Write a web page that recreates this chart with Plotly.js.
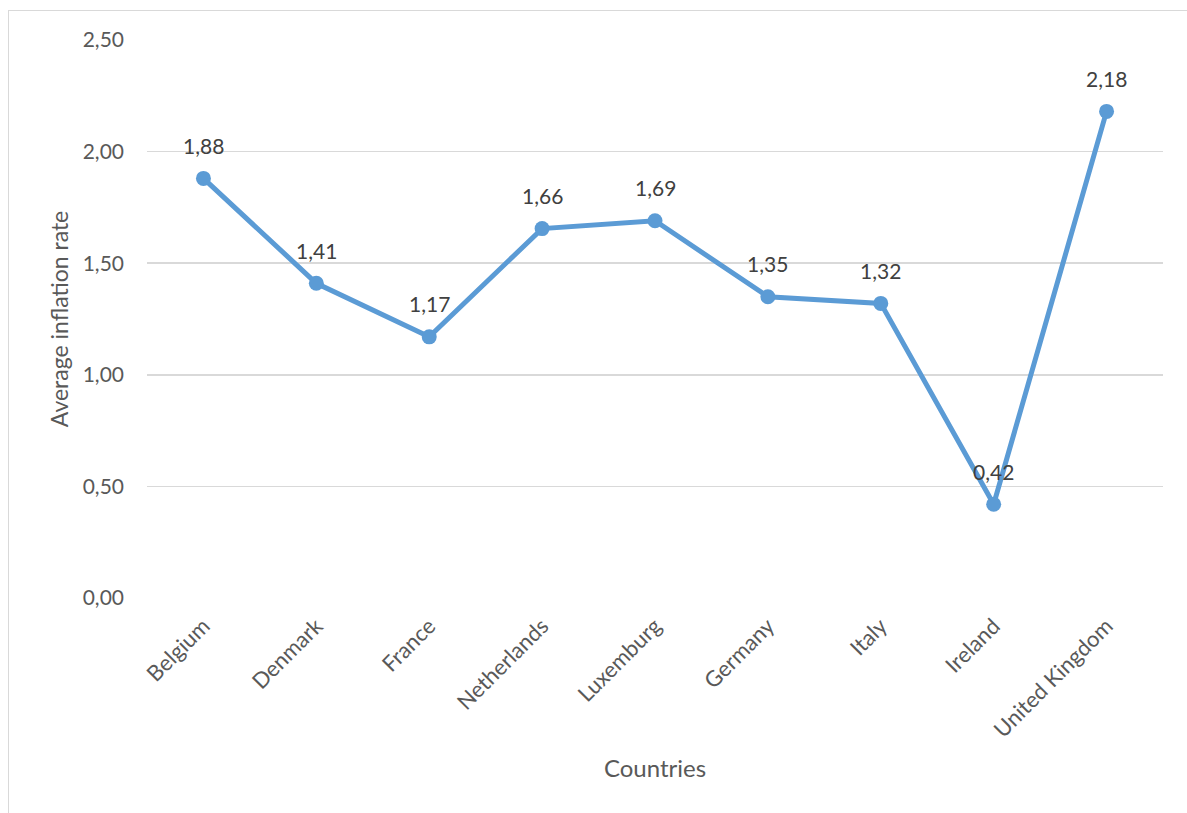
<!DOCTYPE html>
<html>
<head>
<meta charset="utf-8">
<script src="https://cdn.plot.ly/plotly-3.0.1.min.js"></script>
<style>
html,body{margin:0;padding:0;background:#fff;}
#chart{width:1187px;height:813px;}
#frame{position:absolute;left:8px;top:10px;width:1200px;height:820px;border:1px solid #d9d9d9;pointer-events:none;}
</style>
</head>
<body>
<div id="chart"></div>
<div id="frame"></div>
<script>
const countries = ["Belgium","Denmark","France","Netherlands","Luxemburg","Germany","Italy","Ireland","United Kingdom"];
const inflation = [1.88,1.41,1.17,1.655,1.69,1.35,1.32,0.42,2.18];
const labels = ["1,88","1,41","1,17","1,66","1,69","1,35","1,32","0,42","2,18"];
const yTicks = [0,0.5,1,1.5,2,2.5];

const font = 'Lato, "Open Sans", sans-serif';
const annotations = countries.map((c,i)=>({
  x:c,y:inflation[i],xref:'x',yref:'y',text:labels[i],showarrow:false,
  yanchor:'middle',xanchor:'center',yshift:33,
  font:{family:font,size:21,color:'#404040'}
}));
Plotly.newPlot('chart',[{
  type:'scatter',mode:'lines+markers',
  x:countries,y:inflation,
  line:{color:'#5B9BD5',width:5},
  marker:{color:'#5B9BD5',size:15},
  cliponaxis:false,hoverinfo:'skip'
}],{
  width:1187,height:813,
  margin:{l:147,r:24,t:40,b:215},
  paper_bgcolor:'#fff',plot_bgcolor:'#fff',
  separators:', ',
  showlegend:false,
  font:{family:font,color:'#595959'},
  annotations:annotations,
  xaxis:{
    type:'category',range:[-0.5,8.5],tickangle:-45,
    tickfont:{family:font,size:22,color:'#595959'},
    showgrid:false,zeroline:false,showline:false,ticks:'',
    ticklabelstandoff:10,
    title:{text:'Countries',font:{family:font,size:24,color:'#595959'},standoff:18}
  },
  yaxis:{
    range:[0,2.5],tickvals:yTicks,tickformat:'.2f',
    tickfont:{family:font,size:21,color:'#595959'},
    gridcolor:'#d9d9d9',gridwidth:1.5,zeroline:false,showline:false,ticks:'',
    ticklabelstandoff:22,
    title:{text:'Average inflation rate',font:{family:font,size:23,color:'#595959'},standoff:7}
  }
},{staticPlot:true});
</script>
</body>
</html>
